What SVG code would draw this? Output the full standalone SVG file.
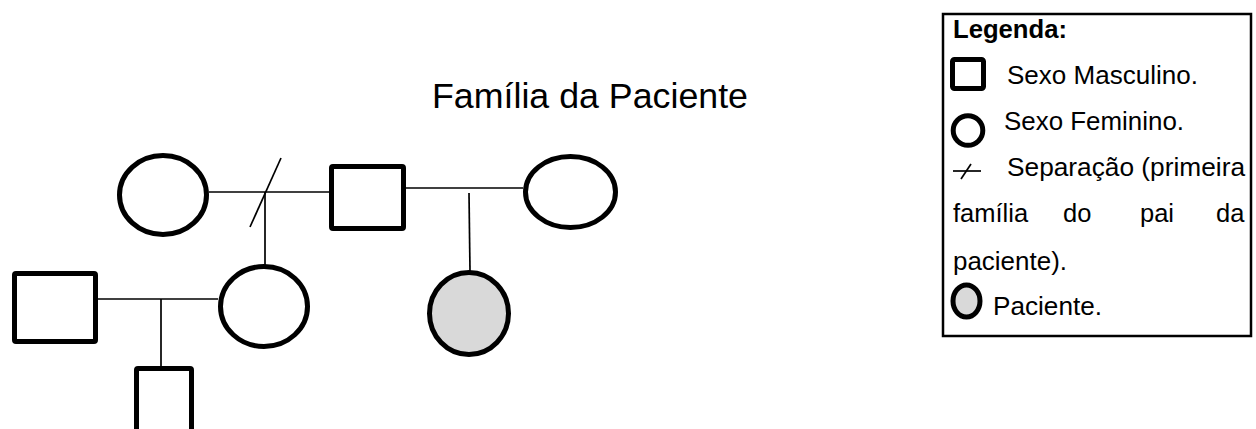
<svg xmlns="http://www.w3.org/2000/svg" width="1256" height="429" viewBox="0 0 1256 429">
<style>
.sh{fill:#fff;stroke:#000;stroke-width:5}
.pt{fill:#d9d9d9;stroke:#000;stroke-width:5}
.ln{stroke:#000;stroke-width:1.7;fill:none}
.t{font-family:"Liberation Sans",Arial,sans-serif;fill:#000}
.lg{font-size:25.5px}
</style>
<rect width="1256" height="429" fill="#fff"/>
<text class="t" x="432" y="108" font-size="35.5" textLength="316" lengthAdjust="spacingAndGlyphs">Família da Paciente</text>
<g id="connectors">
<line class="ln" x1="209" y1="192" x2="329" y2="192"/>
<line class="ln" x1="281" y1="158" x2="250" y2="227"/>
<line class="ln" x1="265" y1="192" x2="265" y2="265"/>
<line class="ln" x1="406" y1="188" x2="523" y2="188"/>
<line class="ln" x1="469" y1="193" x2="470" y2="271"/>
<line class="ln" x1="98" y1="299" x2="218" y2="299"/>
<line class="ln" x1="161" y1="299" x2="161" y2="367"/>
</g>
<g id="first-wife"><ellipse class="sh" cx="163" cy="195" rx="43.5" ry="39.5"/></g>
<g id="father"><rect class="sh" x="331.5" y="166.5" width="72" height="62" rx="1.5"/></g>
<g id="second-wife"><ellipse class="sh" cx="570.5" cy="192" rx="45" ry="35.5"/></g>
<g id="patient"><ellipse class="pt" cx="469" cy="313.5" rx="39.5" ry="41"/></g>
<g id="half-sister"><ellipse class="sh" cx="264" cy="306.5" rx="43.5" ry="40"/></g>
<g id="husband"><rect class="sh" x="14.5" y="273.5" width="81" height="68" rx="1.5"/></g>
<g id="child"><rect class="sh" x="136.5" y="368.5" width="55" height="70" rx="1.5"/></g>
<g id="legend">
<rect x="943" y="14" width="308" height="322" fill="#fff" stroke="#000" stroke-width="2.5"/>
<text class="t lg" x="953" y="38" font-weight="bold" textLength="114" lengthAdjust="spacingAndGlyphs">Legenda:</text>
<rect class="sh" x="952.5" y="59.5" width="31" height="29" rx="2" stroke-width="5"/>
<text class="t lg" x="1007" y="84" textLength="191" lengthAdjust="spacingAndGlyphs">Sexo Masculino.</text>
<ellipse class="sh" cx="968" cy="130.5" rx="14.8" ry="14.8" stroke-width="5"/>
<text class="t lg" x="1004" y="130" textLength="180" lengthAdjust="spacingAndGlyphs">Sexo Feminino.</text>
<line class="ln" x1="953" y1="171" x2="981" y2="171"/>
<line class="ln" x1="971" y1="164" x2="961" y2="179"/>
<text class="t lg" x="1007" y="176" textLength="238" lengthAdjust="spacingAndGlyphs">Separação (primeira</text>
<text class="t lg" x="953" y="222">família</text>
<text class="t lg" x="1063" y="222">do</text>
<text class="t lg" x="1140" y="222">pai</text>
<text class="t lg" x="1216" y="222">da</text>
<text class="t lg" x="953" y="270" textLength="114" lengthAdjust="spacingAndGlyphs">paciente).</text>
<ellipse class="pt" cx="966.5" cy="301" rx="13.5" ry="16" stroke-width="5.5"/>
<text class="t lg" x="993" y="315" textLength="109" lengthAdjust="spacingAndGlyphs">Paciente.</text>
</g>
</svg>
